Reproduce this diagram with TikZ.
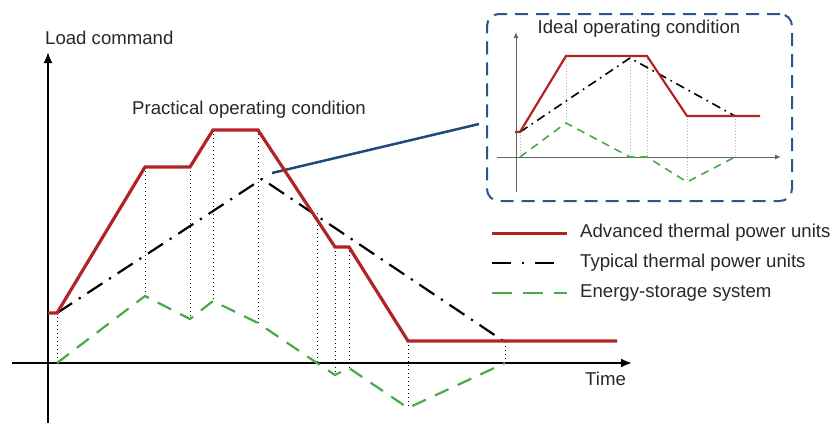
\documentclass[tikz,border=0pt]{standalone}
\usepackage{fontspec}
\setmainfont{Liberation Sans}
\usetikzlibrary{arrows.meta}
\definecolor{advred}{RGB}{178,36,36}
\definecolor{essgreen}{RGB}{72,170,72}
\definecolor{boxblue}{RGB}{45,85,140}
\definecolor{linkblue}{RGB}{32,72,120}
\definecolor{txt}{RGB}{40,40,40}
\begin{document}
\begin{tikzpicture}[x=1pt,y=-1pt,
  lbl/.style={font=\fontsize{18.6}{22}\selectfont, text=txt, inner sep=0pt},
  axis/.style={line width=2pt, -{Latex[length=11pt,width=9pt]}},
  axsmall/.style={line width=1pt, gray!80!black, -{Latex[length=6pt,width=5pt]}},
  adv/.style={advred, line width=3.2pt, line join=miter},
  typ/.style={black, line width=2.2pt, dash pattern=on 18pt off 8pt on 2.2pt off 8pt},
  ess/.style={essgreen, line width=2.2pt, dash pattern=on 15pt off 10pt},
  guide/.style={black, line width=1pt, dash pattern=on 1pt off 3pt},
  advs/.style={advred, line width=2.2pt, line join=miter},
  typs/.style={black, line width=1.6pt, dash pattern=on 9pt off 5pt on 1.6pt off 5pt},
  esss/.style={essgreen, line width=1.6pt, dash pattern=on 8pt off 6pt},
  guides/.style={gray!60, line width=0.8pt, dash pattern=on 1pt off 2pt},
  insetbox/.style={draw=boxblue, line width=2pt, dash pattern=on 13pt off 8pt, rounded corners=12pt, minimum width=305pt, minimum height=187pt, inner sep=0pt}]
\useasboundingbox (0,0) rectangle (833,424);

% ---------- main chart ----------
% guides
\foreach \x/\a/\b in {57/313/363,145/167/296,190/167/319,213/130/301,258/130/323,317/213/363,335/247/375,349/247/368,408/341/408,505/342/363}
  \draw[guide] (\x,\a) -- (\x,\b);

% axes
\coordinate (yfoot) at (48,423);
\coordinate (ytip) at (48,52);
\coordinate (xfoot) at (12,363);
\coordinate (xtip) at (632,363);
\draw[axis] (yfoot) -- (ytip);
\draw[axis] (xfoot) -- (xtip);

% connector to inset
\node[insetbox] (inset) at (639.5,107.5) {};
\coordinate (linkstart) at (272,173);
\coordinate (linkend) at (479,124);
\draw[linkblue, line width=2.5pt] (linkstart) -- (linkend);

% curves
\draw[ess] (57,363) -- (145,296) -- (190,319) -- (213,301) -- (258,323) -- (317,363) -- (335,375) -- (349,368) -- (408,408) -- (505,363);
\draw[typ] (57,313) -- (262,179) -- (505,342);
\draw[adv] (48,313) -- (57,313) -- (145,167) -- (190,167) -- (213,130) -- (258,130) -- (335,247) -- (349,247) -- (408,341) -- (617,341);

% labels
\node[lbl, anchor=west] (ylab) at (45,38) {Load command};
\node[lbl, anchor=west] (plab) at (132,110) {Practical operating condition};
\node[lbl, anchor=west] (xlab) at (585,379) {Time};

% ---------- inset ----------
\node[lbl, anchor=center] (ilab) at (639,29) {Ideal operating condition};
\foreach \x/\a/\b in {520/132/157,566/56/123,630/58/157,647/56/157,687/116/182,735/116/157}
  \draw[guides] (\x,\a) -- (\x,\b);
\coordinate (iyfoot) at (516,192);
\coordinate (iytip) at (516,32);
\coordinate (ixfoot) at (497,157);
\coordinate (ixtip) at (781,157);
\draw[axsmall] (iyfoot) -- (iytip);
\draw[axsmall] (ixfoot) -- (ixtip);
\draw[esss] (520,157) -- (566,123) -- (630,157) -- (647,157) -- (687,182) -- (735,157);
\draw[typs] (520,132) -- (630,58) -- (735,116);
\draw[advs] (515,132) -- (520,132) -- (566,56) -- (647,56) -- (687,116) -- (760,116);

% ---------- legend ----------
\coordinate (l1a) at (492,233); \coordinate (l1b) at (567,233);
\coordinate (l2a) at (492,263); \coordinate (l2b) at (555,263);
\coordinate (l3a) at (492,293); \coordinate (l3b) at (567,293);
\draw[advred, line width=3pt] (l1a) -- (l1b);
\draw[black, line width=2.4pt, dash pattern=on 19pt off 11pt on 2.4pt off 11pt] (l2a) -- (l2b);
\draw[essgreen, line width=2.4pt, dash pattern=on 20pt off 11pt] (l3a) -- (l3b);
\node[lbl, anchor=west] (leg1) at (580,233) {Advanced thermal power units};
\node[lbl, anchor=west] (leg2) at (580,263) {Typical thermal power units};
\node[lbl, anchor=west] (leg3) at (580,293) {Energy-storage system};
\end{tikzpicture}
\end{document}
